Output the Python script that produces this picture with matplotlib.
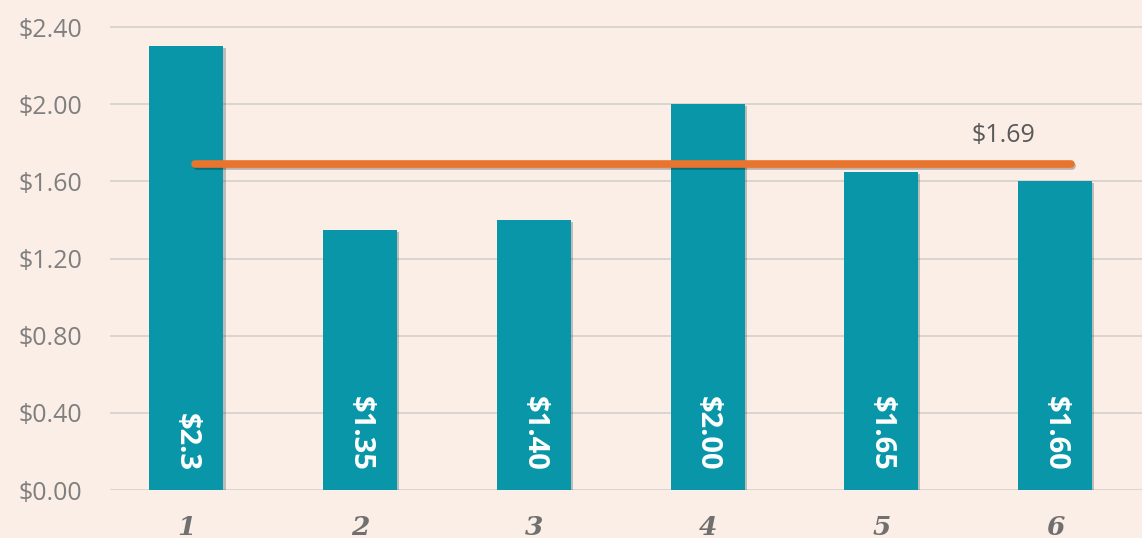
import matplotlib.pyplot as plt
import matplotlib.patheffects as pe

# データ
categories = ["1", "2", "3", "4", "5", "6"]
values = [2.30, 1.35, 1.40, 2.00, 1.65, 1.60]
bar_labels = ["$2.3", "$1.35", "$1.40", "$2.00", "$1.65", "$1.60"]
average = 1.69
y_ticks = [0.0, 0.4, 0.8, 1.2, 1.6, 2.0, 2.4]

bg = "#FBEEE6"
bar_color = "#0896A8"
line_color = "#E8742E"

fig = plt.figure(figsize=(11.42, 5.38), dpi=100, facecolor=bg)
ax = fig.add_axes([110 / 1142, 48 / 538, 1032 / 1142, 490 / 538])
ax.set_facecolor(bg)

x = list(range(len(categories)))
ax.bar(x, values, width=0.426, color=bar_color, zorder=3,
       path_effects=[pe.SimplePatchShadow(offset=(1.5, -1.5), alpha=0.25), pe.Normal()])

# 各バーの下部に数値を表示
for i, lab in enumerate(bar_labels):
    ax.text(i, 0.1, lab, rotation=-90, rotation_mode="anchor", ha="right", va="center",
            color="white", fontsize=21, fontweight="bold", family="Open Sans", zorder=4)

# 平均線
ax.plot([0.05, 5.09], [average, average], color=line_color, lw=5.5, solid_capstyle="round", zorder=5,
        path_effects=[pe.SimpleLineShadow(offset=(1, -1.5), alpha=0.25), pe.Normal()])
ax.text(4.7, 1.84, f"${average:.2f}", ha="center", va="center", fontsize=18, color="#595959",
        family="Open Sans")

ax.set_xlim(-0.44, 5.5)
ax.set_ylim(0, 2.54)
ax.set_yticks(y_ticks)
ax.set_yticklabels([f"${v:.2f}" for v in y_ticks], fontsize=18, color="#7F7F7F", family="Open Sans")
ax.set_xticks(x)
ax.set_xticklabels(categories, fontsize=19, color="#707070", family="DejaVu Serif",
                   style="italic", fontweight="bold")
ax.tick_params(axis="y", length=0, pad=20)
ax.tick_params(axis="x", length=0, pad=18)
ax.grid(axis="y", color="#D8D3CF", lw=1.3, zorder=0)
ax.set_axisbelow(True)
for s in ax.spines.values():
    s.set_visible(False)

fig.savefig("out.png", dpi=100, facecolor=bg)
